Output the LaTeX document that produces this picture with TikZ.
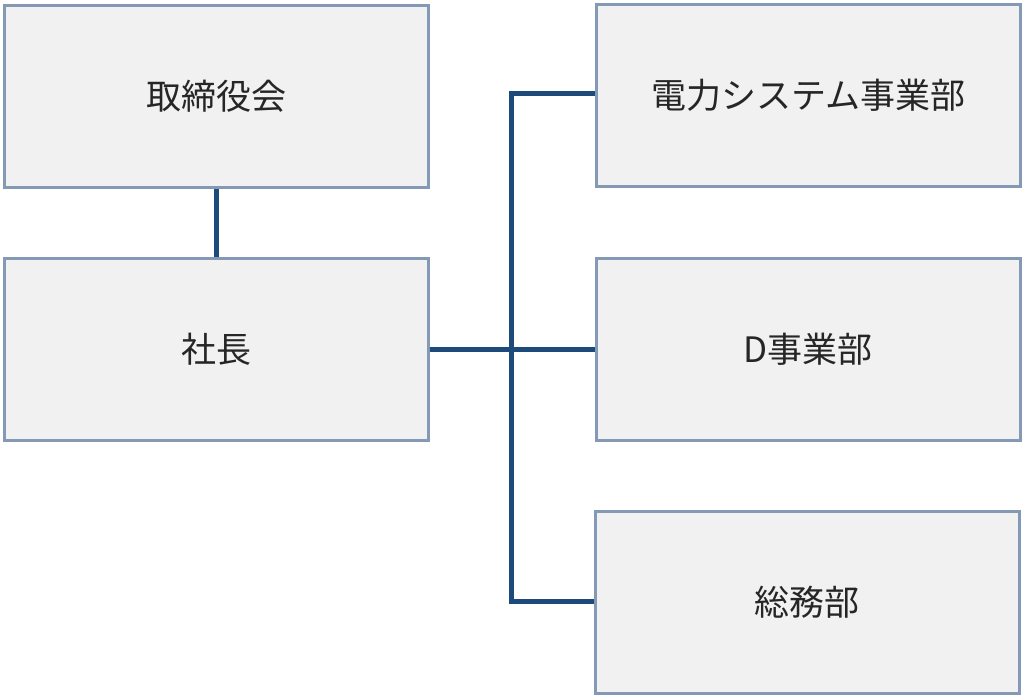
\documentclass[tikz,border=0pt]{standalone}
\usepackage{fontspec}
\setmainfont{Noto Sans CJK JP}
\definecolor{boxfill}{HTML}{F1F1F1}
\definecolor{boxline}{HTML}{8399B5}
\definecolor{conn}{HTML}{1C4A7A}
\newcommand{\lbl}[1]{\raisebox{-4pt}{#1}}
\begin{document}
\begin{tikzpicture}[x=1pt,y=-1pt,
  orgbox/.style={draw=boxline,line width=2.6pt,fill=boxfill,minimum width=424pt,minimum height=182pt,inner sep=0pt,font=\fontsize{35}{40}\selectfont,anchor=north west,text=black!85},
  link/.style={draw=conn,line width=5pt}]
\useasboundingbox (0,0) rectangle (1024,694);
\node[orgbox] (board) at (3,4) {\lbl{取締役会}};
\node[orgbox] (pres) at (3,257) {\lbl{社長}};
\node[orgbox] (power) at (595,3) {\lbl{電力システム事業部}};
\node[orgbox] (dbiz) at (595,257) {\lbl{D事業部}};
\node[orgbox] (ga) at (594,510) {\lbl{総務部}};
\coordinate (jt) at (511,93);
\coordinate (jb) at (511,601);
\draw[link] (board.south) -- (pres.north);
\draw[link] (pres.east) -- (dbiz.west);
\draw[link] (power.west |- jt) -- (jt) -- (jb) -- (ga.west |- jb);
\end{tikzpicture}
\end{document}
